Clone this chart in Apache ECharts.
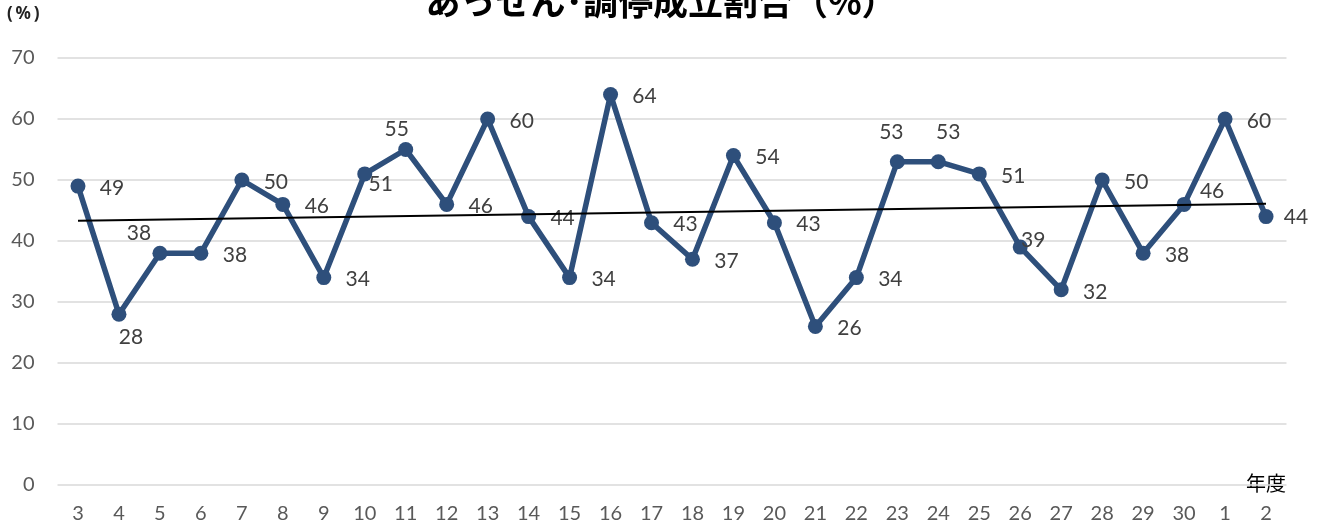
<!DOCTYPE html>
<html><head><meta charset="utf-8">
<script src="https://cdn.jsdelivr.net/npm/echarts@6/dist/echarts.min.js"></script>
<style>html,body{margin:0;padding:0;background:#fff}#c{width:1322px;height:525px}</style>
</head><body><div id="c"></div>
<script>
var categories = ['3','4','5','6','7','8','9','10','11','12','13','14','15','16','17','18','19','20','21','22','23','24','25','26','27','28','29','30','1','2'];
var rates = [49,28,38,38,50,46,34,51,55,46,60,44,34,64,43,37,54,43,26,34,53,53,51,39,32,50,38,46,60,44];
var trendStart = 43.3;
var trendEnd = 46.1;
var yTicks = [0,10,20,30,40,50,60,70];
var titleText = 'あっせん･調停成立割合（%）';
var unitText = '(\u2009%\u2009)';
var xName = '年度';

// label placement style (pixel offsets from each marker centre)
var defaultOffset = [34, 2];
var specialOffsets = {1:[12,23], 2:[-21,-20], 7:[16,10], 8:[-9,-20], 20:[-6,-29], 21:[10,-29], 23:[13,-7], 27:[28,-13], 29:[30,1]};

var font = 'Lato, "Open Sans", sans-serif';
var data = rates.map(function(v, i){
  var off = specialOffsets[i] || defaultOffset;
  return {value: v, label: {offset: off}};
});

var chart = echarts.init(document.getElementById('c'));
chart.setOption({
  animation: false,
  title: {text: titleText, left: 'center', top: -21, textStyle: {fontSize: 35, fontWeight: 'bold', color: '#000', fontFamily: '"Noto Sans CJK JP", sans-serif'}},
  grid: {left: 57.5, right: 35.5, top: 58, bottom: 40},
  xAxis: {type: 'category', data: categories, boundaryGap: true,
    axisLine: {show: false}, axisTick: {show: false},
    axisLabel: {color: '#595959', fontSize: 20, fontFamily: font, margin: 19}},
  yAxis: {type: 'value', min: 0, max: 70, interval: 10,
    axisLabel: {color: '#595959', fontSize: 20, fontFamily: font, margin: 23,
      formatter: function(v){ return yTicks.indexOf(v) >= 0 ? String(v) : ''; }},
    splitLine: {lineStyle: {color: '#d9d9d9', width: 1.5}},
    axisLine: {show: false}, axisTick: {show: false}},
  graphic: [
    {type: 'text', left: 7, top: 6, style: {text: unitText, fontSize: 17, fontWeight: 'bold', fill: '#222', fontFamily: '"Noto Sans", sans-serif'}},
    {type: 'text', left: 1246, top: 473, style: {text: xName, fontSize: 20, fill: '#000', fontFamily: '"Noto Sans CJK JP", sans-serif'}}
  ],
  series: [
    {type: 'line', data: rates.map(function(){return null;}), silent: true, z: 1,
      markLine: {symbol: 'none', silent: true, label: {show: false},
        lineStyle: {color: '#000', width: 2, type: 'solid'},
        data: [[{coord: [categories[0], trendStart]}, {coord: [categories[categories.length-1], trendEnd]}]]}},
    {type: 'line', data: data, z: 3,
      lineStyle: {color: '#2E4F7B', width: 5.5},
      itemStyle: {color: '#2E4F7B'},
      symbol: 'circle', symbolSize: 15,
      label: {show: true, position: 'inside', color: '#404040', fontSize: 21, fontFamily: font}}
  ]
});
</script></body></html>
